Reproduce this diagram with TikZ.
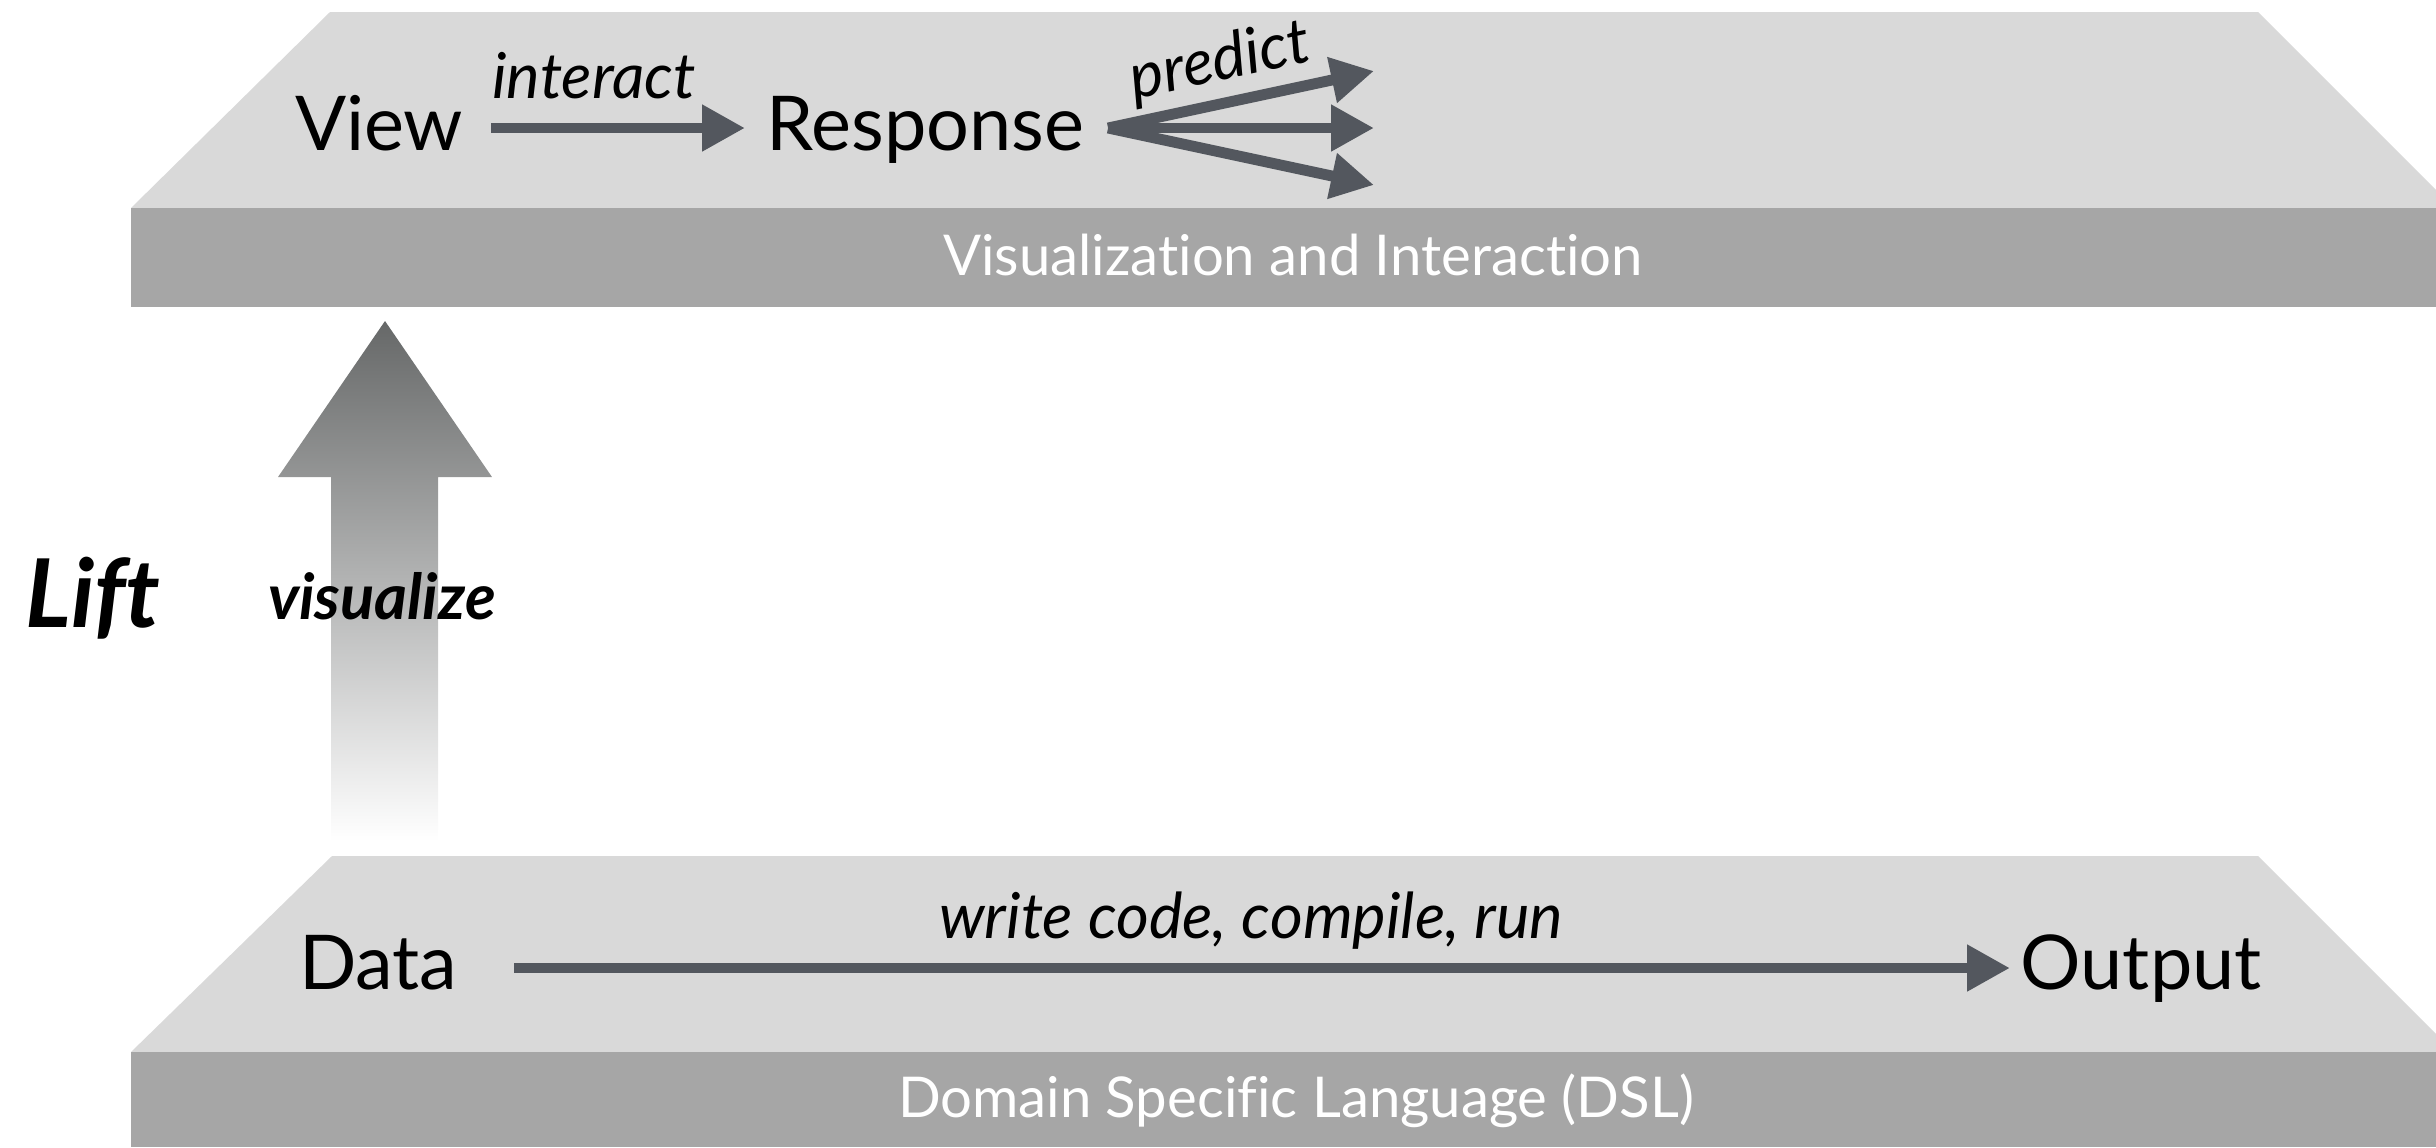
\documentclass[tikz,border=0pt]{standalone}
\usepackage{fontspec}
\setmainfont{Lato}[Ligatures=NoCommon]
\usetikzlibrary{arrows.meta,calc}
\definecolor{surf}{HTML}{D9D9D9}
\definecolor{bandc}{HTML}{A6A6A6}
\definecolor{arr}{HTML}{53575E}
\definecolor{liftdark}{HTML}{666868}
\begin{document}
\begin{tikzpicture}[x=0.01cm,y=-0.01cm,
 lbl/.style={inner sep=0pt, font=\fontsize{21.5}{21.5}\selectfont},
 verb/.style={inner sep=0pt, font=\fontsize{18}{18}\selectfont\itshape},
 bandlbl/.style={inner sep=0pt, text=white, font=\fontsize{16}{16}\selectfont},
 flow/.style={draw=arr, line width=3.1pt, -{Triangle[length=12.2pt,width=12.5pt]}}]
\useasboundingbox (0,0) rectangle (2436,1147);
\clip (0,0) rectangle (2436,1147);
% top layer
\fill[surf] (330,12) -- (2258,12) -- (2454,208) -- (131,208) -- cycle;
\fill[bandc] (131,208) rectangle (2436,307);
% bottom layer
\fill[surf] (332,856) -- (2258,856) -- (2454,1052) -- (131,1052) -- cycle;
\fill[bandc] (131,1052) rectangle (2436,1147);
% lift arrow
\shade[top color=liftdark, bottom color=white]
  (385,321) -- (492,477) -- (438,477) -- (438,841) -- (331,841) -- (331,477) -- (278,477) -- cycle;
% band labels
\node[bandlbl, anchor=base] (vi) at (1293,275) {Visualization and Interaction};
\node[bandlbl, anchor=base] (dsl) at (1296,1117) {Domain Specific Language (DSL)};
% top row
\node[lbl, anchor=base east] (view) at (464,150) {View};
\node[lbl, anchor=base west] (response) at (766,150) {Response};
\node[verb, anchor=base] (interact) at (594,98) {interact};
\draw[flow] ($(view.base east)+(27,-22)$) -- ($(response.base west)+(-21,-22)$);
\coordinate (fork) at ($(response.base east)+(23,-22)$);
\coordinate (p1) at (1374,71);
\coordinate (p2) at (1374,128);
\coordinate (p3) at (1374,185);
\draw[flow] (fork) -- (p1);
\draw[flow] (fork) -- (p2);
\draw[flow] (fork) -- (p3);
\node[verb, anchor=base, rotate=12] (predict) at (1224,80) {predict};
% bottom row
\node[lbl, anchor=base east] (data) at (458,989) {Data};
\node[lbl, anchor=base west] (output) at (2020,989) {Output};
\draw[flow] ($(data.base east)+(56,-21)$) -- ($(output.base west)+(-10,-21)$);
\node[verb, anchor=base] (wcr) at (1251,938) {write code, compile, run};
% lift labels
\node[inner sep=0pt, anchor=base west, font=\fontsize{27}{27}\selectfont\bfseries\itshape] (lift) at (25,627) {Lift};
\node[inner sep=0pt, anchor=base, font=\fontsize{18}{18}\selectfont\bfseries\itshape] (vis) at (382,619) {visualize};
\end{tikzpicture}
\end{document}
